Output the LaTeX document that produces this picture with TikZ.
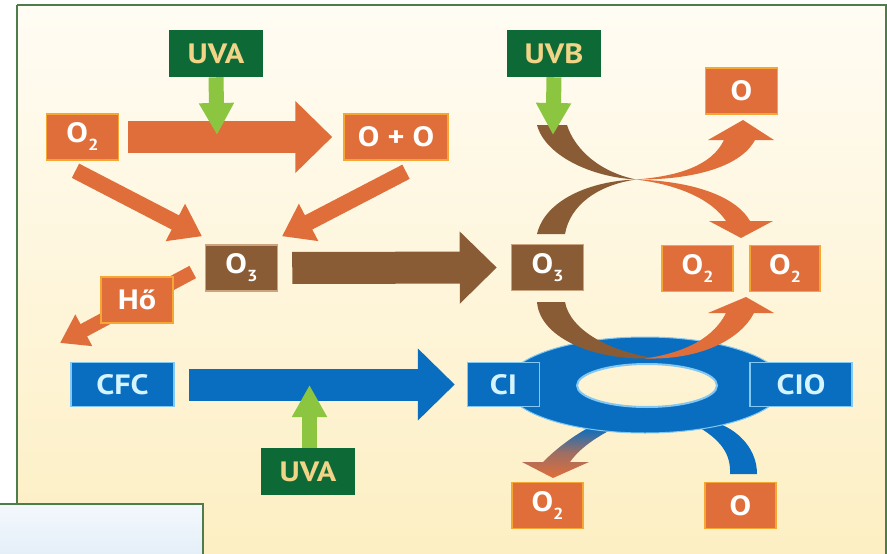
\documentclass[tikz,border=0pt]{standalone}
\usepackage{fontspec}
\setmainfont{PT Sans}
\newfontfamily\lab{PT Sans}[FakeStretch=1.15]
\usetikzlibrary{arrows.meta}
\definecolor{orng}{HTML}{E06E3A}
\definecolor{oedge}{HTML}{F6A733}
\definecolor{brwn}{HTML}{8A5C35}
\definecolor{bedge}{HTML}{C9A47C}
\definecolor{dgrn}{HTML}{0D6A36}
\definecolor{gtxt}{HTML}{F2D487}
\definecolor{lime}{HTML}{8CC53F}
\definecolor{blu}{HTML}{0A6EC0}
\definecolor{bluedge}{HTML}{82C8F2}
\definecolor{blutxt}{HTML}{D4F4FF}
\definecolor{framec}{HTML}{4E7D4C}
\definecolor{bgtop}{HTML}{FFFCF4}
\definecolor{bgbot}{HTML}{FDEFC3}
\definecolor{boxtop}{HTML}{F3F8FC}
\definecolor{boxbot}{HTML}{E3EEF8}
\newcommand{\lsub}[1]{\raisebox{-8pt}{\fontsize{16}{17}\selectfont #1}}
\pgfdeclarelayer{back}
\pgfdeclarelayer{mid}
\pgfsetlayers{back,mid,main}
\begin{document}
\begin{tikzpicture}[x=1pt,y=-1pt,
  box/.style={rectangle, inner sep=0pt, line width=1.5pt, minimum width=72pt, minimum height=46pt,
    font=\lab\bfseries\fontsize{28}{32}\selectfont},
  obox/.style={box, fill=orng, draw=oedge, text=white},
  brbox/.style={box, fill=brwn, draw=bedge, text=white},
  gbox/.style={box, fill=dgrn, draw=dgrn, text=gtxt, minimum width=92pt},
  bbox/.style={box, fill=blu, draw=bluedge, text=blutxt, minimum height=44pt},
  bigarrow/.style={line width=32pt, -{Triangle[length=37pt,width=70pt]}},
  uvarrow/.style={lime, line width=15pt, -{Triangle[length=32pt,width=33pt]}},
  diagarrow/.style={orng, line width=16pt, -{Triangle[length=30pt,width=40pt]}},
  heatarrow/.style={orng, line width=14pt, -{Triangle[length=27pt,width=34pt]}}
]
\useasboundingbox (0,0) rectangle (887,554);

% nodes
\node[gbox]  (uva1) at (216,53.5) {UVA};
\node[obox]  (o2a)  at (82.5,137) {O\lsub{2}};
\node[obox, minimum width=104pt] (oo) at (396,137) {O + O};
\node[brbox] (o3a)  at (241.5,268) {O\lsub{3}};
\node[obox]  (ho)   at (137,300) {Hő};
\node[bbox, minimum width=103pt] (cfc) at (122.5,384.5) {CFC};
\node[gbox, minimum height=45pt] (uva2) at (308,471.5) {UVA};
\node[gbox]  (uvb)  at (554,53.5) {UVB};
\node[obox]  (otop) at (741.5,91) {O};
\node[brbox] (o3b)  at (547.5,267.5) {O\lsub{3}};
\node[obox, minimum width=71pt] (o2b) at (697.5,268.5) {O\lsub{2}};
\node[obox, minimum width=70pt] (o2c) at (785,268.5) {O\lsub{2}};
\node[bbox, minimum width=72pt] (cl) at (503.5,384.5) {CI};
\node[bbox, minimum width=102pt] (clo) at (801,384.5) {CIO};
\node[obox, minimum width=71pt] (o2d) at (547.5,505.5) {O\lsub{2}};
\node[obox, minimum width=71pt] (obot) at (740.5,505.5) {O};

% background and frame
\begin{pgfonlayer}{back}
\shade[top color=bgtop, bottom color=bgbot] (17,5) rectangle (886,556);
\draw[framec, line width=2pt] (17,5) -- (886,5) -- (886,560);
\draw[framec, line width=2pt] (17,5) -- (17,505);
\shade[top color=boxtop, bottom color=boxbot] (-5,504) rectangle (203,560);
\draw[framec, line width=2.5pt] (-5,504) -- (203,504) -- (203,560);
\end{pgfonlayer}

\begin{pgfonlayer}{mid}
% straight arrows
\draw[bigarrow, orng, shorten <=9pt, shorten >=11pt] (o2a.east) -- (oo.west);
\draw[diagarrow] ([shift={(-7,10)}]o2a.south) -- ([shift={(-39.5,-8)}]o3a.north);
\draw[diagarrow] ([shift={(10,11)}]oo.south) -- ([shift={(40.5,-8)}]o3a.north);
\coordinate (heatend) at (60,343);
\draw[heatarrow] ([shift={(-12,4)}]o3a.west) -- (heatend);
\coordinate (uvatip) at (217,135);
\draw[uvarrow] (uva1.south) -- (uvatip);
\draw[bigarrow, brwn, shorten <=14pt, shorten >=14pt] (o3a.east) -- (o3b.west);
\draw[bigarrow, blu, shorten <=14pt, shorten >=12pt] (cfc.east) -- (cl.west);
\coordinate (uva2tip) at (309.5,385);
\draw[uvarrow] ([xshift=1.5pt]uva2.north) -- (uva2tip);

% upper X exchange
\fill[brwn] (537,125) .. controls (545,155) and (590,177) .. (636,179.5)
  .. controls (600,172) and (575,150) .. (567,125) -- cycle;
\fill[brwn] (537,234) .. controls (545,200) and (590,181) .. (636,179.5)
  .. controls (598,185) and (570,205) .. (565,234) -- cycle;
\fill[orng] (636,179.5) .. controls (680,176) and (712,165) .. (724,140) -- (708,140) -- (743,120)
  -- (774,140) -- (755,140) .. controls (740,168) and (690,180) .. (636,179.5) -- cycle;
\fill[orng] (636,179.5) .. controls (690,181) and (735,195) .. (750,221) -- (773,221) -- (741,238)
  -- (709,221) -- (726,221) .. controls (712,200) and (680,185) .. (636,179.5) -- cycle;
\coordinate (uvbtip) at (553,135);
\draw[uvarrow] (uvb.south) -- (uvbtip);

% ring and its branches
\shade[top color=blu, bottom color=orng, middle color=orng!70!blu]
  (588,428) .. controls (570,438) and (555,450) .. (543,462) -- (522,462) -- (553,478)
  -- (589,462) -- (570,462) .. controls (580,448) and (595,438) .. (614,428) -- cycle;
\fill[blu] (695,425) .. controls (722,440) and (731,455) .. (730,474) -- (757,474)
  .. controls (757,450) and (740,432) .. (720,424) -- cycle;
\fill[blu, even odd rule] (645,385) ellipse [x radius=139pt, y radius=48pt]
  (647,385.5) ellipse [x radius=70pt, y radius=21.5pt];
\draw[bluedge, line width=1pt] (645,385) ellipse [x radius=139pt, y radius=48pt];
\draw[bluedge, line width=2pt] (647,385.5) ellipse [x radius=70pt, y radius=21.5pt];

% lower exchange
\fill[brwn] (537,302) .. controls (540,340) and (600,362) .. (655,358)
  .. controls (610,352) and (570,330) .. (565,302) -- cycle;
\fill[orng] (645,358.5) .. controls (690,352) and (715,335) .. (726,313) -- (708,313) -- (746,297)
  -- (774,313) -- (754,313) .. controls (740,340) and (700,360) .. (645,358.5) -- cycle;
\end{pgfonlayer}
\end{tikzpicture}
\end{document}
